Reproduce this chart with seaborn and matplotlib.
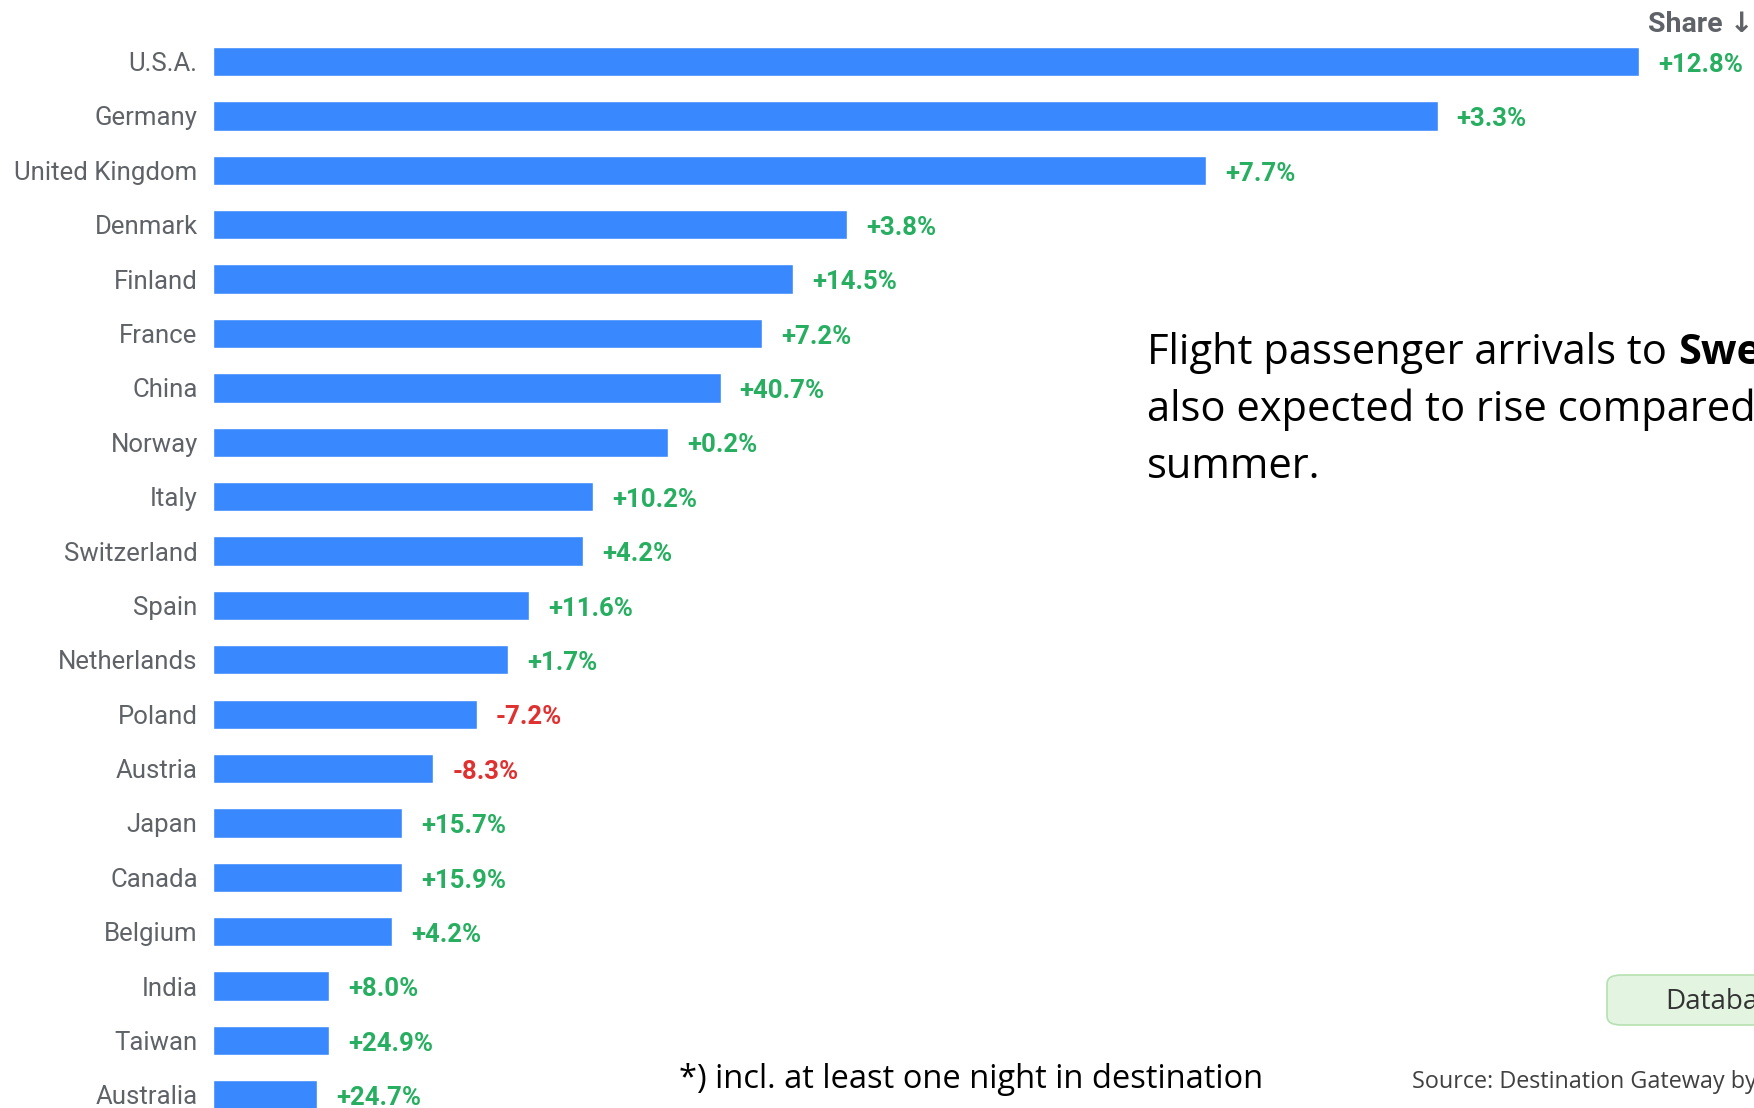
import pandas as pd
import matplotlib.pyplot as plt
import seaborn as sns
from matplotlib.patches import FancyBboxPatch

sns.set_theme(style="white")
plt.rcParams['font.family'] = ['Roboto', 'DejaVu Sans']

# Data (share = bar length, arbitrary units; growth in %)
countries = ['U.S.A.', 'Germany', 'United Kingdom', 'Denmark', 'Finland', 'France',
             'China', 'Norway', 'Italy', 'Switzerland', 'Spain', 'Netherlands',
             'Poland', 'Austria', 'Japan', 'Canada', 'Belgium', 'India', 'Taiwan',
             'Australia']
share = [12.75, 10.95, 8.88, 5.67, 5.19, 4.91, 4.54, 4.07, 3.40, 3.31, 2.83,
         2.64, 2.36, 1.97, 1.69, 1.69, 1.60, 1.04, 1.04, 0.93]
growth = [12.8, 3.3, 7.7, 3.8, 14.5, 7.2, 40.7, 0.2, 10.2, 4.2, 11.6, 1.7,
          -7.2, -8.3, 15.7, 15.9, 4.2, 8.0, 24.9, 24.7]

df = pd.DataFrame({'country': countries, 'share': share, 'growth': growth})

W, H = 1754, 1108
fig = plt.figure(figsize=(W / 100, H / 100), dpi=100)
ax = fig.add_axes([213 / W, 0, (W - 213) / W, 1])

sns.barplot(data=df, x='share', y='country', orient='h', color='#3a88fd',
            width=0.54, saturation=1, ax=ax)

ax.set_xlim(0, 13.78)
ax.set_ylim(19.24, -1.13)
ax.set_xlabel('')
ax.set_ylabel('')
ax.set_xticks([])
sns.despine(ax=ax, left=True, bottom=True)
ax.tick_params(axis='y', length=0, pad=11, labelsize=18.5, labelcolor='#5f6368')

# growth labels next to bars
for i, (s, g) in enumerate(zip(share, growth)):
    col = '#27ae60' if g >= 0 else '#e03131'
    ax.text(s + 0.17, i + 0.06, f'{g:+.1f}%', va='center', ha='left', fontsize=18.5,
            fontweight='bold', color=col)

fig.text(1754 / W, 1 - 24 / H, 'Share \u2193', ha='right', va='center',
         fontsize=20.5, fontweight='bold', color='#5f6368')

# side commentary (cropped by the page edge, as in the reference)
side_font = ['Open Sans', 'DejaVu Sans']
tx = 1147 / W
t1 = fig.text(tx, 1 - 353 / H, 'Flight passenger arrivals to ', ha='left', va='center',
              fontsize=30, color='black', family=side_font)
fig.canvas.draw()
bb = t1.get_window_extent(renderer=fig.canvas.get_renderer())
fig.text(bb.x1 / W, 1 - 353 / H, 'Sweden', ha='left', va='center',
         fontsize=30, fontweight='bold', color='black', family=side_font)
fig.text(tx, 1 - 410 / H, 'also expected to rise compared to last', ha='left', va='center',
         fontsize=30, color='black', family=side_font)
fig.text(tx, 1 - 467 / H, 'summer.', ha='left', va='center',
         fontsize=30, color='black', family=side_font)

# database button
btn = FancyBboxPatch((1607 / W, 1 - 1025 / H), 200 / W, 50 / H,
                     boxstyle='round,pad=0,rounding_size=0.008',
                     transform=fig.transFigure, facecolor='#e3f5e1',
                     edgecolor='#b6e0b2', linewidth=1.2, clip_on=False)
fig.patches.append(btn)
fig.text(1665 / W, 1 - 1002 / H, 'Database', ha='left', va='center', fontsize=20,
         color='#333333', family=side_font)

fig.text(1412 / W, 1 - 1082 / H, 'Source: Destination Gateway by', ha='left', va='center',
         fontsize=16.8, color='#404040', family=side_font)
fig.text(679 / W, 1 - 1080 / H, '*) incl. at least one night in destination', ha='left',
         va='center', fontsize=23.5, color='black', family=side_font)

fig.savefig('out.png', dpi=100)
